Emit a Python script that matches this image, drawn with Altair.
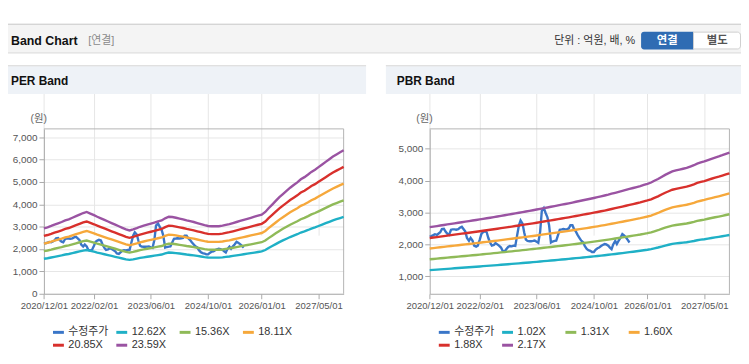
import altair as alt
import pandas as pd

# ---------------- data ----------------
tick_dates = ["2020-12-01", "2022-02-01", "2023-06-01", "2024-10-01", "2026-01-01", "2027-05-01"]
band_start = "2020-12-01"
band_end = "2027-12-01"

# monthly EPS (원) behind the PER band lines, 2020-12 .. 2027-12
eps = [124, 126, 128.5, 131, 133.5, 136, 139, 141, 144, 147, 150, 153, 155,
       152, 149, 146, 143, 140, 137, 134, 131, 128, 125, 122, 120,
       122, 124.5, 127, 129, 131, 133, 135, 137, 139, 143, 146, 145.5,
       144, 142.5, 141, 139, 137.5, 136, 134, 132, 130, 128.5, 128, 128,
       128, 129, 130.5, 132, 134, 136, 138, 140, 142, 144, 146, 148, 150,
       155, 162, 169, 176, 183, 189, 195, 201, 206, 211, 217, 221, 226, 231,
       235, 240, 245, 250, 255, 260, 264, 268, 272]

# monthly BPS (원) behind the PBR band lines, 2020-12 .. 2027-12
bps = [1170, 1178, 1186, 1194, 1202, 1210, 1218, 1226, 1234, 1242, 1250, 1258, 1266, 1274, 1283,
       1291, 1299, 1307, 1316, 1325, 1334, 1343, 1352, 1361, 1370, 1379, 1388, 1397, 1406, 1415, 1425,
       1435, 1445, 1455, 1465, 1475, 1485, 1495, 1505, 1515, 1526, 1537, 1548, 1559, 1570, 1581, 1592,
       1604, 1616, 1628, 1641, 1654, 1667, 1680, 1694, 1708, 1722, 1736, 1750, 1764, 1780, 1796,
       1815, 1840, 1865, 1895, 1925, 1950, 1975, 1990, 2002, 2014, 2026, 2045, 2065, 2088, 2105,
       2120, 2140, 2158, 2175, 2192, 2210, 2230, 2248]

# adjusted share price (수정주가), 1st and 15th of each month from 2020-12-01
price = [2250, 2260, 2290, 2320, 2300, 2340, 2380, 2480, 2490, 2400, 2330, 2300,
         2460, 2470, 2470, 2460, 2480, 2520, 2550, 2480, 2400, 2200, 2110, 2200,
         2120, 1960, 1930, 1960, 2150, 2330, 2380, 2410, 2380, 2200, 2050, 1960,
         1980, 2040, 2000, 1960, 1900, 1800, 1780, 1850, 1920, 1950, 1940, 1960,
         1950, 2250, 2600, 2750, 2650, 2370, 2150, 2110, 2100, 2100, 2110, 2120,
         2080, 2050, 2400, 3050, 3140, 3000, 2850, 2600, 2060, 2090, 2110, 2115,
         2300, 2460, 2470, 2480, 2470, 2480, 2500, 2600, 2600, 2480, 2400, 2300,
         2200, 2120, 2070, 1950, 1860, 1820, 1800, 1760, 1760, 1830, 1880, 1900,
         1950, 1980, 2010, 2000, 1960, 1900, 1850, 2000, 2110, 2010, 2120, 2200,
         2320, 2280, 2220, 2150, 2060]

price_name = "수정주가"
per_multiples = [12.62, 15.36, 18.11, 20.85, 23.59]
pbr_multiples = [1.02, 1.31, 1.60, 1.88, 2.17]
per_labels = ["12.62X", "15.36X", "18.11X", "20.85X", "23.59X"]
pbr_labels = ["1.02X", "1.31X", "1.60X", "1.88X", "2.17X"]
series_colors = ["#3a76c8", "#1fb0c6", "#8fba58", "#f6a83b", "#d8302c", "#9a53a2"]
per_y_ticks = [0, 1000, 2000, 3000, 4000, 5000, 6000, 7000]
pbr_y_ticks = [1000, 2000, 3000, 4000, 5000]
per_y_domain = [0, 7371]
pbr_y_domain = [452, 5620]

# ---------------- tables ----------------
band_dates = pd.date_range(band_start, periods=len(eps), freq="MS")
price_dates = pd.date_range(band_start, periods=len(price), freq="SMS")


def make_table(base, multiples, labels):
    rows = [{"date": d, "value": v, "series": price_name} for d, v in zip(price_dates, price)]
    for m, lab in zip(multiples, labels):
        rows += [{"date": d, "value": round(b * m, 1), "series": lab} for d, b in zip(band_dates, base)]
    return pd.DataFrame(rows)


per_df = make_table(eps, per_multiples, per_labels)
pbr_df = make_table(bps, pbr_multiples, pbr_labels)

# ---------------- layout / style ----------------
W, H = 741, 348
FONT = "Liberation Sans, Noto Sans CJK KR, sans-serif"
PLOT_TOP, PLOT_BOTTOM = 120.3, 287
one = pd.DataFrame({"k": [0]})


def dt(s):
    return alt.DateTime(year=int(s[:4]), month=int(s[5:7]), date=int(s[8:10]))


def txt(s, x, y, size=11, color="#333", weight="normal", align="left"):
    return alt.Chart(one).mark_text(align=align, baseline="middle", font=FONT, fontSize=size,
                                    fontWeight=weight, color=color).encode(
        x=alt.value(x), y=alt.value(y), text=alt.value(s))


def box(x, x2, y, y2, fill, stroke=None, **kw):
    props = dict(fill=fill, **kw)
    if stroke:
        props.update(stroke=stroke, strokeWidth=1)
    return alt.Chart(one).mark_rect(**props).encode(
        x=alt.value(x), x2=alt.value(x2), y=alt.value(y), y2=alt.value(y2))


def hline(x, x2, y, color):
    return alt.Chart(one).mark_rule(color=color, strokeWidth=1).encode(
        x=alt.value(x), x2=alt.value(x2), y=alt.value(y))


def vline(x, y, y2, color):
    return alt.Chart(one).mark_rule(color=color, strokeWidth=1).encode(
        x=alt.value(x), y=alt.value(y), y2=alt.value(y2))


def panel(df, labels, ydom, yticks, x0, x1, lx):
    names = [price_name] + labels
    xs = alt.Scale(domain=[dt(band_start), dt(band_end)], range=[x0, x1], nice=False)
    ys = alt.Scale(domain=ydom, range=[PLOT_BOTTOM, PLOT_TOP], nice=False, zero=False)
    return alt.Chart(df).mark_line(strokeWidth=2.4).encode(
        x=alt.X("date:T", scale=xs, axis=alt.Axis(
            orient="bottom", offset=-(H - PLOT_BOTTOM), values=[dt(d) for d in tick_dates],
            format="%Y/%m/%d", title=None, labelFont=FONT, labelFontSize=9.6, labelColor="#555",
            labelFlush=False, labelOverlap=False, labelPadding=2, tickSize=5, tickColor="#aaa",
            domainColor="#aaa", grid=True, gridColor="#e6e6e6")),
        y=alt.Y("value:Q", scale=ys, axis=alt.Axis(
            orient="left", offset=-x0, values=yticks, format=",d", title=None,
            labelFont=FONT, labelFontSize=10, labelColor="#555", labelPadding=2,
            tickSize=5, tickColor="#aaa", domainColor="#aaa", grid=True, gridColor="#e6e6e6",
            labelOverlap=False, labelFlush=False)),
        color=alt.Color("series:N", scale=alt.Scale(domain=names, range=series_colors),
                        legend=alt.Legend(orient="none", legendX=lx, legendY=319, columns=4,
                                          direction="horizontal", gridAlign="all", title=None,
                                          symbolType="stroke", symbolStrokeWidth=3, symbolSize=121,
                                          labelFont=FONT, labelFontSize=11, labelColor="#333",
                                          labelOffset=3, columnPadding=1, rowPadding=-1, padding=0)),
    )


per_chart = panel(per_df, per_labels, per_y_domain, per_y_ticks, 36.3, 339.3, 44)
pbr_chart = panel(pbr_df, pbr_labels, pbr_y_domain, pbr_y_ticks, 426.3, 729.3, 434)

decor = [
    # header bar
    box(-1, 742, 14, 43, "#f4f4f4"),
    hline(-1, 742, 14.5, "#c8c8c8"),
    hline(-1, 742, 43.5, "#d6d6d6"),
    box(640, 693, 22, 40, "#2f6cb3", cornerRadiusTopLeft=3, cornerRadiusBottomLeft=3),
    box(693, 740.5, 22.5, 39.5, "#ffffff", stroke="#cfcfcf",
        cornerRadiusTopRight=3, cornerRadiusBottomRight=3),
    # panel title bars
    box(-8, 362, 57, 85, "#eef2f7"),
    hline(-8, 362, 56.5, "#d4d4d4"),
    box(382, 742, 57, 85, "#eef2f7"),
    hline(382, 742, 56.5, "#d4d4d4"),
    # plot frames (top / right)
    hline(36.3, 339.3, PLOT_TOP, "#b4b4b4"),
    vline(339.3, PLOT_TOP, PLOT_BOTTOM, "#b4b4b4"),
    hline(426.3, 729.3, PLOT_TOP, "#b4b4b4"),
    vline(729.3, PLOT_TOP, PLOT_BOTTOM, "#b4b4b4"),
]

texts = [
    txt("Band Chart", 3, 31, size=12.5, color="#111", weight="bold"),
    txt("[연결]", 81, 31, size=11, color="#8a8a8a"),
    txt("단위 : 억원, 배, %", 634, 31, size=11, color="#333", align="right"),
    txt("연결", 666.5, 31, size=11.5, color="#ffffff", weight="bold", align="center"),
    txt("별도", 717, 31, size=11.5, color="#555", weight="bold", align="center"),
    txt("PER Band", 3, 72, size=12, color="#111", weight="bold"),
    txt("PBR Band", 393, 72, size=12, color="#111", weight="bold"),
    txt("(원)", 31, 110, size=10.5, color="#666", align="center"),
    txt("(원)", 421, 110, size=10.5, color="#666", align="center"),
]

chart = alt.layer(*decor, per_chart, pbr_chart, *texts).resolve_scale(
    x="independent", y="independent", color="independent"
).properties(
    width=W, height=H, padding=0, background="white",
    autosize=alt.AutoSizeParams(type="none"),
).configure_view(stroke=None)

chart.save("out.html", embed_options={"renderer": "svg", "actions": False})
